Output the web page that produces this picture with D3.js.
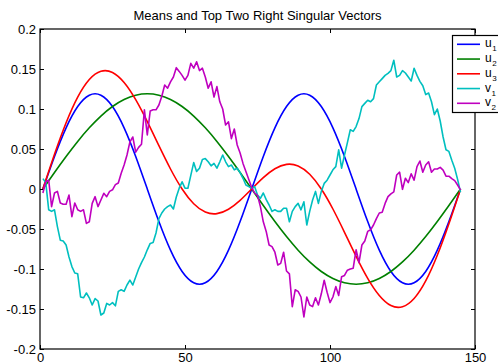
<!DOCTYPE html>
<html><head><meta charset="utf-8">
<script src="https://cdn.jsdelivr.net/npm/d3@7"></script>
<style>
body{margin:0;background:#fff}
svg{display:block}
text{font-family:Arial,"Liberation Sans",Helvetica,sans-serif;fill:#000}
</style>
</head><body>
<svg id="chart" width="498" height="364"></svg>
<script>
// ---------- data ----------
const chartTitle = "Means and Top Two Right Singular Vectors";
const seriesNames = ["u", "u", "u", "v", "v"];
const seriesSubs = ["1", "2", "3", "1", "2"];
const seriesColors = ["#0000ff", "#008000", "#ff0000", "#00bfbf", "#bf00bf"];

const xTicks = [0, 50, 100, 150];
const xTickLabels = ["0", "50", "100", "150"];
const yTicks = [-0.2, -0.15, -0.1, -0.05, 0, 0.05, 0.1, 0.15, 0.2];
const yTickLabels = ["-0.2", "-0.15", "-0.1", "-0.05", "0", "0.05", "0.1", "0.15", "0.2"];

// smooth mean curves, read every 4 samples
const uX = [1,5,9,13,17,21,25,29,33,37,41,45,49,53,57,61,65,69,73,77,81,85,89,93,97,101,105,109,113,117,121,125,129,133,137,141,145];
const u1 = [0, 0.0407, 0.0765, 0.1031, 0.1172, 0.1172, 0.1031, 0.0765, 0.0407, 0, -0.0407, -0.0765, -0.1031, -0.1172, -0.1172, -0.1031, -0.0765, -0.0407, 0, 0.0407, 0.0765, 0.1031, 0.1172, 0.1172, 0.1031, 0.0765, 0.0407, 0, -0.0407, -0.0765, -0.1031, -0.1172, -0.1172, -0.1031, -0.0765, -0.0407, 0];
const u2 = [0, 0.0207, 0.0407, 0.0595, 0.0765, 0.0912, 0.1031, 0.1118, 0.1172, 0.119, 0.1172, 0.1118, 0.1031, 0.0912, 0.0765, 0.0595, 0.0407, 0.0207, 0, -0.0207, -0.0407, -0.0595, -0.0765, -0.0912, -0.1031, -0.1118, -0.1172, -0.119, -0.1172, -0.1118, -0.1031, -0.0912, -0.0765, -0.0595, -0.0407, -0.0207, 0];
const u3 = [0, 0.0434, 0.0828, 0.1149, 0.1369, 0.1472, 0.1457, 0.1331, 0.1116, 0.0841, 0.0541, 0.0250, 0, -0.0184, -0.0288, -0.0308, -0.0253, -0.0142, 0, 0.0142, 0.0253, 0.0308, 0.0288, 0.0184, 0, -0.0250, -0.0541, -0.0841, -0.1116, -0.1331, -0.1457, -0.1472, -0.1369, -0.1149, -0.0828, -0.0434, 0];

// noisy singular vectors, one value per sample (samples 1..145)
const vX = d3.range(1, 146);
const v1 = [
 0.013, 0.008, -0.026, -0.028, -0.026, -0.047, -0.064, -0.065, -0.070, -0.085,
 -0.097, -0.105, -0.106, -0.135, -0.136, -0.130, -0.136, -0.145, -0.137, -0.140,
 -0.1575, -0.155, -0.143, -0.145, -0.142, -0.146, -0.128, -0.126, -0.128, -0.120,
 -0.114, -0.120, -0.110, -0.100, -0.092, -0.085, -0.076, -0.068, -0.067, -0.055,
 -0.037, -0.030, -0.025, -0.022, -0.020, -0.025, -0.010, 0.001, 0.009, 0.001,
 0.001, 0.017, 0.033, 0.022, 0.026, 0.037, 0.038, 0.034, 0.029, 0.032,
 0.026, 0.034, 0.0425, 0.034, 0.028, 0.030, 0.024, 0.026, 0.0205, 0.0134,
 0.005, 0.003, 0.001, 0.003, -0.0075, -0.0117, -0.005, -0.0133, -0.020, -0.028,
 -0.026, -0.028, -0.028, -0.024, -0.024, -0.041, -0.028, -0.022, -0.018, -0.026,
 -0.016, -0.045, -0.028, -0.0137, -0.003, -0.018, -0.003, 0.007, 0.011, 0.0175,
 0.024, 0.028, 0.049, 0.026, 0.0425, 0.058, 0.074, 0.072, 0.078, 0.088,
 0.103, 0.107, 0.111, 0.109, 0.113, 0.130, 0.134, 0.138, 0.142, 0.1446,
 0.148, 0.161, 0.140, 0.142, 0.148, 0.145, 0.140, 0.135, 0.151, 0.142,
 0.1346, 0.129, 0.118, 0.120, 0.109, 0.093, 0.100, 0.085, 0.065, 0.049,
 0.047, 0.036, 0.026, 0.012, -0.004
];
const v2 = [
 -0.005, 0.009, 0.011, -0.022, -0.005, -0.003, -0.0175, -0.019, -0.019, -0.0075,
 -0.0346, -0.0175, -0.026, -0.028, -0.026, -0.043, -0.041, -0.018, -0.0096, -0.022,
 -0.0137, -0.0054, -0.0096, -0.003, -0.001, 0.0054, 0.0075, 0.0196, 0.030, 0.0425,
 0.059, 0.065, 0.046, 0.052, 0.056, 0.099, 0.0675, 0.0975, 0.099, 0.099,
 0.105, 0.116, 0.130, 0.126, 0.134, 0.140, 0.1517, 0.147, 0.142, 0.136,
 0.142, 0.157, 0.151, 0.159, 0.148, 0.151, 0.140, 0.126, 0.134, 0.115,
 0.128, 0.109, 0.100, 0.080, 0.084, 0.063, 0.075, 0.055, 0.045, 0.032,
 0.022, 0.012, 0.002, -0.005, -0.008, -0.022, -0.041, -0.053, -0.070, -0.072,
 -0.079, -0.095, -0.093, -0.079, -0.1025, -0.106, -0.147, -0.126, -0.128, -0.135,
 -0.160, -0.135, -0.145, -0.147, -0.136, -0.145, -0.131, -0.114, -0.129, -0.142,
 -0.135, -0.122, -0.133, -0.1096, -0.108, -0.1015, -0.100, -0.099, -0.076, -0.092,
 -0.070, -0.065, -0.053, -0.051, -0.045, -0.037, -0.030, -0.029, -0.018, -0.0095,
 -0.006, -0.0035, 0.0175, 0.021, -0.0004, 0.0134, 0.008, 0.019, 0.011, 0.028,
 0.035, 0.021, 0.030, 0.034, 0.021, 0.025, 0.025, 0.027, 0.0235, 0.016,
 0.016, 0.013, 0.0105, 0.005, -0.001
];

// ---------- drawing ----------
const svg = d3.select("#chart");
const L = 40, R = 475, T = 29, B = 349;
const x = d3.scaleLinear().domain([0, 150]).range([L, R]);
const y = d3.scaleLinear().domain([-0.2, 0.2]).range([B, T]);

svg.append("rect").attr("width", 498).attr("height", 364).attr("fill", "#fff");

// axes
const fs = "13px";
const gB = svg.append("g").attr("transform", `translate(0,${B})`)
  .call(d3.axisBottom(x).tickValues(xTicks).tickFormat((d, i) => xTickLabels[i]).tickSizeInner(-4).tickSizeOuter(0).tickPadding(4));
const gT = svg.append("g").attr("transform", `translate(0,${T})`)
  .call(d3.axisTop(x).tickValues(xTicks).tickFormat("").tickSizeInner(-4).tickSizeOuter(0));
const gL = svg.append("g").attr("transform", `translate(${L},0)`)
  .call(d3.axisLeft(y).tickValues(yTicks).tickFormat((d, i) => yTickLabels[i]).tickSizeInner(-4).tickSizeOuter(0).tickPadding(4));
const gR = svg.append("g").attr("transform", `translate(${R},0)`)
  .call(d3.axisRight(y).tickValues(yTicks).tickFormat("").tickSizeInner(-4).tickSizeOuter(0));
[gB, gT, gL, gR].forEach(g => {
  g.selectAll("path.domain").remove();
  g.selectAll("line").attr("stroke", "#000");
  g.selectAll("text").attr("font-size", fs).attr("font-family", "Arial, 'Liberation Sans', sans-serif").attr("fill", "#222");
});

// data lines
const clip = svg.append("clipPath").attr("id", "plotclip")
  .append("rect").attr("x", L).attr("y", T).attr("width", R - L).attr("height", B - T);
const plot = svg.append("g").attr("clip-path", "url(#plotclip)");

const smooth = d3.line().x((d, i) => x(uX[i])).y(d => y(d)).curve(d3.curveNatural);
const rough = d3.line().x((d, i) => x(vX[i])).y(d => y(d));

const series = [u1, u2, u3, v1, v2];
series.forEach((s, k) => {
  plot.append("path").datum(s)
    .attr("d", k < 3 ? smooth : rough)
    .attr("fill", "none")
    .attr("stroke", seriesColors[k])
    .attr("stroke-width", 1.6)
    .attr("stroke-linejoin", "round");
});

// axis box
svg.append("rect").attr("x", L).attr("y", T).attr("width", R - L).attr("height", B - T)
  .attr("fill", "none").attr("stroke", "#000").attr("stroke-width", 1.2);

// title
svg.append("text").attr("x", (L + R) / 2).attr("y", 20)
  .attr("text-anchor", "middle").attr("font-size", "13px").attr("fill", "#222")
  .text(chartTitle);

// legend
const lg = svg.append("g");
lg.append("rect").attr("x", 452.5).attr("y", 35.5).attr("width", 60).attr("height", 77)
  .attr("fill", "#fff").attr("stroke", "#000").attr("stroke-width", 1.2);
seriesNames.forEach((n, i) => {
  const yy = 44.3 + i * 14.75;
  lg.append("line").attr("x1", 457).attr("x2", 480).attr("y1", yy).attr("y2", yy)
    .attr("stroke", seriesColors[i]).attr("stroke-width", 1.6);
  const t = lg.append("text").attr("x", 485).attr("y", yy + 3).attr("font-size", "12px").attr("fill", "#222");
  t.append("tspan").text(n);
  t.append("tspan").attr("font-size", "8px").attr("dx", 0.5).attr("dy", 4).text(seriesSubs[i]);
});
</script>
</body></html>
